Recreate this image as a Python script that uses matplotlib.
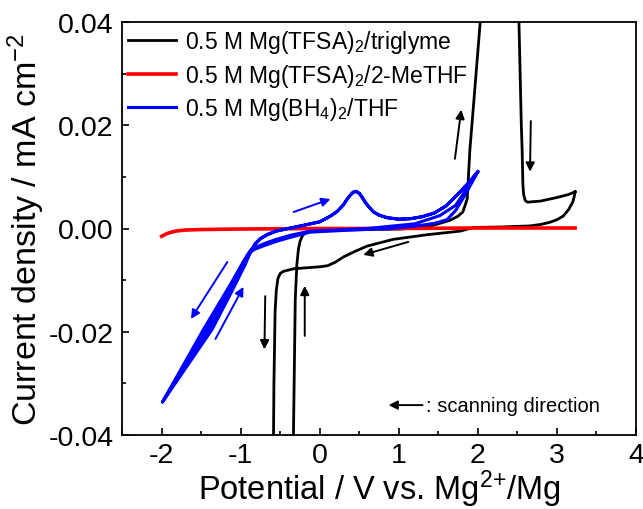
import matplotlib
matplotlib.use("Agg")
import matplotlib.pyplot as plt
from matplotlib.ticker import MultipleLocator, FormatStrFormatter

# -------------------------
# FONTS
# -------------------------
plt.rcParams['font.family'] = ['Liberation Sans', 'DejaVu Sans']
plt.rcParams['mathtext.fontset'] = 'custom'
plt.rcParams['mathtext.rm'] = 'Liberation Sans'
plt.rcParams['mathtext.default'] = 'regular'
plt.rcParams['axes.unicode_minus'] = False

# -------------------------
# DATA
# -------------------------
# 0.5 M Mg(TFSA)2/triglyme  (off-scale parts are clipped by the axis limits)
tri_v = [3.23, 3.22, 3.20, 3.15, 3.08, 3.00, 2.91, 2.80, 2.66, 2.30, 1.94, 1.78,
         1.36, 0.93, 0.60, 0.45, 0.30, 0.20, 0.10, 0.01, -0.33, -0.41, -0.46,
         -0.50, -0.53, -0.55, -0.565, -0.58, -0.585, -0.59,
         -0.34, -0.333, -0.31, -0.29, -0.27, -0.25, -0.22, -0.18, -0.12, 0.26,
         1.02, 1.36, 1.52, 1.65, 1.75, 1.81, 1.865, 1.90, 1.93, 2.03, 2.05,
         2.50, 2.52, 2.55, 2.56, 2.57, 2.58, 2.60, 2.63, 2.70, 2.79, 3.00, 3.15,
         3.23]
tri_j = [0.0071, 0.0062, 0.0051, 0.0037, 0.0024, 0.0017, 0.0012, 0.0008, 0.0005,
         0.0003, 0.0002, -0.0005, -0.0012, -0.0021, -0.0034, -0.0044, -0.0055,
         -0.0065, -0.0072, -0.0074, -0.0078, -0.0081, -0.0083, -0.0087, -0.0097,
         -0.0120, -0.0160, -0.0300, -0.0400, -0.0600,
         -0.0600, -0.0400, -0.0137, -0.0070, -0.0040, -0.0025, -0.0014, -0.0008,
         -0.0005, -0.0003, -0.0001, 0.0003, 0.0010, 0.0016, 0.0024, 0.0032,
         0.0057, 0.0154, 0.0210, 0.0400, 0.0450,
         0.0450, 0.0400, 0.0200, 0.0154, 0.0085, 0.0065, 0.0054, 0.0051, 0.0052,
         0.0053, 0.0060, 0.0066, 0.0071]

# 0.5 M Mg(TFSA)2/2-MeTHF
methf_v = [-2.0, -1.95, -1.9, -1.82, -1.7, -1.5, -1.0, 0.0, 1.0, 2.0, 3.23]
methf_j = [-0.0015, -0.0011, -0.0008, -0.0005, -0.0003, -0.0002, -0.0001, 0.0,
           0.0, 0.0001, 0.0001]

# 0.5 M Mg(BH4)2/THF, two cycles starting at 2.0 V
bh4_v = [2.0, 1.85, 1.72, 1.61, 1.45, 1.23, 0.90, 0.40, -0.12, -0.37, -0.55,
         -0.70, -0.82, -0.88, -0.93, -1.00, -1.47, -1.99,
         -1.40, -1.10, -0.95, -0.88, -0.82, -0.75, -0.66, -0.55, -0.40, -0.21,
         0.0, 0.135, 0.22, 0.30, 0.36, 0.42, 0.46, 0.50, 0.53, 0.57, 0.62, 0.68,
         0.75, 0.85, 1.0, 1.15, 1.30, 1.45, 1.60, 1.75, 1.88, 2.0,
         1.85, 1.72, 1.52, 1.20, 0.60, -0.12, -0.37, -0.55, -0.70, -0.82, -0.88,
         -0.92, -1.00, -1.43, -1.99,
         -1.36, -1.10, -0.95, -0.88, -0.82, -0.75, -0.66, -0.55, -0.40, -0.21,
         0.0, 0.135, 0.22, 0.30, 0.36, 0.42, 0.46, 0.50, 0.53, 0.57, 0.62, 0.68,
         0.75, 0.85, 1.0, 1.15, 1.30, 1.45, 1.60, 1.75, 1.88, 2.0]
bh4_j = [0.0110, 0.0068, 0.0035, 0.0017, 0.0010, 0.0005, 0.0000, -0.0003,
         -0.0007, -0.0017, -0.0025, -0.0033, -0.0040, -0.0046, -0.0057, -0.0075,
         -0.0195, -0.0336,
         -0.0195, -0.0112, -0.0068, -0.0045, -0.0030, -0.0019, -0.0011, -0.0005,
         0.0000, 0.0006, 0.0013, 0.0024, 0.0033, 0.0046, 0.0060, 0.0070, 0.0072,
         0.0068, 0.0062, 0.0052, 0.0042, 0.0032, 0.0026, 0.0021, 0.0018, 0.0019,
         0.0023, 0.0030, 0.0044, 0.0067, 0.0088, 0.0110,
         0.0075, 0.0045, 0.0025, 0.0009, 0.0000, -0.0005, -0.0013, -0.0021,
         -0.0029, -0.0037, -0.0043, -0.0052, -0.0073, -0.0195, -0.0336,
         -0.0195, -0.0118, -0.0072, -0.0047, -0.0031, -0.0020, -0.0012, -0.0005,
         0.0000, 0.0006, 0.0013, 0.0024, 0.0033, 0.0046, 0.0060, 0.0070, 0.0072,
         0.0068, 0.0062, 0.0052, 0.0042, 0.0032, 0.0026, 0.0021, 0.0018, 0.0019,
         0.0023, 0.0030, 0.0044, 0.0067, 0.0088, 0.0110]

labels = ['0.5 M Mg(TFSA)$_2$/triglyme',
          '0.5 M Mg(TFSA)$_2$/2-MeTHF',
          '0.5 M Mg(BH$_4$)$_2$/THF']

# scan direction arrows: (x_tail, y_tail, x_head, y_head, color)
arrows = [
    (1.71, 0.0135, 1.79, 0.0230, 'black'),
    (2.67, 0.0208, 2.66, 0.0110, 'black'),
    (1.12, -0.0026, 0.55, -0.0051, 'black'),
    (-0.69, -0.0131, -0.70, -0.0234, 'black'),
    (-0.19, -0.0208, -0.19, -0.0111, 'black'),
    (-0.33, 0.0032, 0.135, 0.0057, 'blue'),
    (-1.17, -0.0065, -1.63, -0.0175, 'blue'),
    (-1.32, -0.0214, -0.965, -0.0113, 'blue'),
]

# -------------------------
# PLOT
# -------------------------
fig = plt.figure(figsize=(6.43, 5.10), dpi=100)
ax = fig.add_axes([0.19, 0.145, 0.799, 0.81])

ax.plot(tri_v, tri_j, color='black', lw=2.0, solid_joinstyle='round',
        label=labels[0])
ax.plot(methf_v, methf_j, color='red', lw=2.6, solid_joinstyle='round',
        label=labels[1])
ax.plot(bh4_v, bh4_j, color='blue', lw=2.2, solid_joinstyle='round',
        label=labels[2])

for x0, y0, x1, y1, c in arrows:
    ax.annotate('', xy=(x1, y1), xytext=(x0, y0),
                arrowprops=dict(arrowstyle='-|>', color=c, lw=1.4,
                                mutation_scale=13, shrinkA=0, shrinkB=0))

# "scanning direction" key
ax.annotate('', xy=(0.87, -0.0342), xytext=(1.30, -0.0342),
            arrowprops=dict(arrowstyle='-|>', color='black', lw=1.4,
                            mutation_scale=13, shrinkA=0, shrinkB=0))
ax.text(1.34, -0.0342, ': scanning direction', fontsize=14.5, va='center')

ax.set_xlim(-2.5, 4)
ax.set_ylim(-0.04, 0.04)
ax.xaxis.set_major_locator(MultipleLocator(1))
ax.xaxis.set_minor_locator(MultipleLocator(0.5))
ax.yaxis.set_major_locator(MultipleLocator(0.02))
ax.yaxis.set_minor_locator(MultipleLocator(0.01))
ax.xaxis.set_major_formatter(FormatStrFormatter('%d'))
ax.yaxis.set_major_formatter(FormatStrFormatter('%.2f'))

ax.tick_params(which='both', direction='in', width=1.2, labelsize=20.5,
               top=False, right=False)
ax.tick_params(which='major', length=5, pad=6)
ax.tick_params(which='minor', length=3)
ax.tick_params(axis='x', which='major', pad=5)
for s in ax.spines.values():
    s.set_linewidth(1.3)

ax.set_xlabel('Potential / V vs. Mg$^{2{+}}$/Mg', fontsize=23.5, labelpad=0)
ax.set_ylabel('Current density / mA cm$^{-2}$', fontsize=24.5, labelpad=1)

ax.legend(loc='upper left', frameon=False, fontsize=16.5, handlelength=2.1,
          handletextpad=0.4, labelspacing=0.3, borderaxespad=0.05,
          borderpad=0.2)

fig.savefig('out.png', dpi=100)
